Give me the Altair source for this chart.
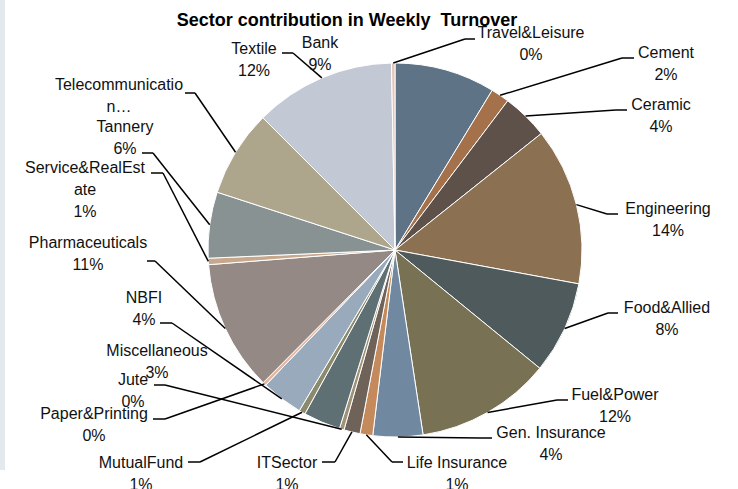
import altair as alt
import pandas as pd

# ---------------- data ----------------
sectors = ["Bank", "Cement", "Ceramic", "Engineering", "Food&Allied", "Fuel&Power",
           "Gen. Insurance", "Life Insurance", "ITSector", "Jute", "Miscellaneous",
           "MutualFund", "NBFI", "Paper&Printing", "Pharmaceuticals",
           "Service&RealEstate", "Tannery", "Telecommunication", "Textile",
           "Travel&Leisure"]
share = [8.7, 1.6, 4.0, 13.6, 8.0, 11.7, 4.3, 1.1, 1.4, 0.4, 3.2,
         0.55, 3.6, 0.3, 11.3, 0.55, 5.7, 7.5, 12.2, 0.3]
# label text as shown (Excel wrapped / truncated some names)
label_names = ["Bank", "Cement", "Ceramic", "Engineering", "Food&Allied", "Fuel&Power",
               "Gen. Insurance", "Life Insurance", "ITSector", "Jute", "Miscellaneous",
               "MutualFund", "NBFI", "Paper&Printing", "Pharmaceuticals",
               "Service&RealEst\nate", "Tannery", "Telecommunicatio\nn\u2026", "Textile",
               "Travel&Leisure"]
show_pct = [True] * 17 + [False, True, True]

# ---------------- style / layout ----------------
colors = ["#5f7386", "#a5714a", "#5e5149", "#8b7152", "#4e5a5b", "#787154",
          "#7089a0", "#c48a5c", "#6e6259", "#a09276", "#5e7073", "#8c8a6c",
          "#98aabb", "#e0b8a4", "#948985", "#c7a88c", "#899293", "#ada68d",
          "#c3c9d4", "#e6c4b6"]
PIE_CX, PIE_CY, PIE_R = 395, 250, 187
W, H = 738, 489
# label placement (pixels): text centre x, first-line baseline y
lab_x = [320, 666, 661, 668, 667, 615, 551, 457, 287, 133, 157, 141, 144, 94, 88, 85, 125, 119, 254, 531]
lab_y = [48, 58, 110, 214, 313, 400, 438, 468, 468, 385, 356, 468, 303, 419, 248, 173, 132, 90, 54, 38]
# leader end point next to the label and the length/direction of its horizontal elbow
has_leader = [False, True, True, True, True, True, True, True, True, True, False,
              True, True, True, True, True, True, True, True, True]
end_x = [0, 634, 627, 618, 618, 568, 492, 403, 322, 154, 0, 188, 160, 153, 147, 151, 142, 185, 282, 475]
end_y = [0, 58, 110, 214, 313, 400, 438, 462, 462, 385, 0, 462, 323, 419, 261, 173, 153, 93, 53, 39]
elbow = [0, -12, -11, -11, -10, -11, -12, -11, 13, 11, 0, 12, 12, 12, 8, 12, 11, 10, 11, -10]

total = sum(share)
labels = []
for n, v, s in zip(label_names, share, show_pct):
    p = int(v / total * 100 + 0.5)
    labels.append(n + ("\n" + str(p) + "%" if s else ""))

df = pd.DataFrame({
    "idx": list(range(len(sectors))),
    "sector": sectors,
    "value": share,
    "label": labels,
    "lx": lab_x, "ly": lab_y,
    "has_leader": has_leader,
    "end_x": end_x, "end_y": end_y, "elbow": elbow,
})

xs = alt.Scale(domain=[0, W], nice=False, zero=False)
ys = alt.Scale(domain=[0, H], nice=False, zero=False, reverse=True)

base = alt.Chart(df)

pie = base.mark_arc(radius=PIE_R, stroke="white", strokeWidth=1).encode(
    theta=alt.Theta("value:Q", stack=True),
    color=alt.Color("sector:N", scale=alt.Scale(domain=sectors, range=colors), legend=None),
    order=alt.Order("idx:Q"),
    x=alt.value(PIE_CX),
    y=alt.value(PIE_CY),
)

lead = base.transform_joinaggregate(
    total="sum(value)"
).transform_window(
    cum="sum(value)", sort=[alt.SortField("idx")], frame=[None, 0]
).transform_calculate(
    mid="2*PI*(datum.cum - datum.value/2)/datum.total",
).transform_calculate(
    sx=f"{PIE_CX} + {PIE_R}*sin(datum.mid)",
    sy=f"{PIE_CY} - {PIE_R}*cos(datum.mid)",
    ex="datum.end_x + datum.elbow",
).transform_filter("datum.has_leader")

seg1 = lead.mark_rule(color="black", strokeWidth=1.5).encode(
    x=alt.X("sx:Q", scale=xs, axis=None), y=alt.Y("sy:Q", scale=ys, axis=None),
    x2="ex:Q", y2="end_y:Q")
seg2 = lead.mark_rule(color="black", strokeWidth=1.5).encode(
    x=alt.X("ex:Q", scale=xs, axis=None), y=alt.Y("end_y:Q", scale=ys, axis=None),
    x2="end_x:Q", y2="end_y:Q")

text = base.mark_text(font="Liberation Sans", fontSize=16, lineBreak="\n", lineHeight=22,
                      align="center", baseline="alphabetic", color="#111111").encode(
    x=alt.X("lx:Q", scale=xs, axis=None), y=alt.Y("ly:Q", scale=ys, axis=None),
    text="label:N")

stripe = alt.Chart(pd.DataFrame({"a": [0]})).mark_rect(color="#e4e9ee").encode(
    x=alt.value(0), x2=alt.value(5), y=alt.value(0), y2=alt.value(470))

title = alt.Chart(pd.DataFrame({"t": ["Sector contribution in Weekly\u00a0 Turnover"]})).mark_text(
    font="Liberation Sans", fontSize=18, fontWeight="bold", align="center",
    baseline="alphabetic", color="black").encode(
    text="t:N", x=alt.value(347), y=alt.value(26))

chart = alt.layer(stripe, pie, seg1, seg2, text, title).properties(
    width=W, height=H, padding=0, autosize=alt.AutoSizeParams(type="none"),
    background="white"
).configure_view(stroke=None)

chart.save("out.html", embed_options={"renderer": "svg", "actions": False})
